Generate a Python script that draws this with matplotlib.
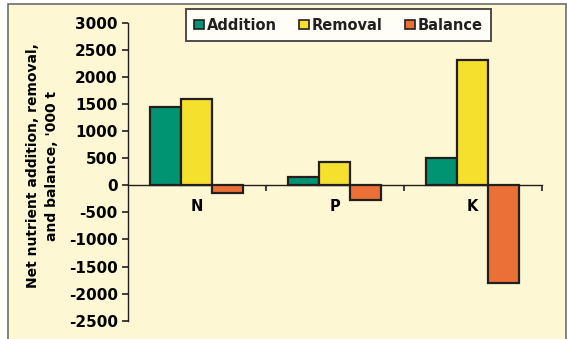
import matplotlib
matplotlib.use("Agg")
import matplotlib.pyplot as plt
from matplotlib.patches import Rectangle
import numpy as np

# nutrient balance, '000 t
nutrients = ["N", "P", "K"]
addition = [1450, 160, 510]
removal = [1600, 430, 2310]
balance = [-150, -270, -1800]

series_names = ["Addition", "Removal", "Balance"]
colors = ["#009473", "#f5e02e", "#ea7035"]
ink = "#231f20"
paper = "#fdf7d3"

plt.rcParams["font.family"] = "DejaVu Sans"
plt.rcParams["font.weight"] = "bold"
plt.rcParams["text.color"] = ink
plt.rcParams["axes.unicode_minus"] = False

fig = plt.figure(figsize=(5.67, 3.39), dpi=100)
fig.patch.set_facecolor("white")

# cream panel with grey frame behind everything
W, H = 567.0, 339.0
panel = Rectangle((8 / W, -0.01), 558 / W, 1 - 4 / H + 0.01,
                  transform=fig.transFigure, facecolor=paper,
                  edgecolor="#6d6d6d", linewidth=1.2, zorder=-10)
fig.patches.append(panel)

ax = fig.add_axes([127.5 / W, 1 - 320.7 / H, (541.7 - 127.5) / W, (320.7 - 22.7) / H])
ax.set_facecolor("none")

x = np.arange(len(nutrients))
width = 0.225
for i, (vals, name, c) in enumerate(zip([addition, removal, balance], series_names, colors)):
    ax.bar(x + (i - 1) * width, vals, width, color=c, edgecolor=ink,
           linewidth=1.6, label=name, zorder=3)

ax.set_xlim(-0.5, 2.5)
ax.set_ylim(-2500, 3000)
ax.set_yticks(np.arange(-2500, 3001, 500))

for side in ["top", "right"]:
    ax.spines[side].set_visible(False)
ax.spines["bottom"].set_position(("data", 0))
ax.spines["bottom"].set_color(ink)
ax.spines["bottom"].set_linewidth(1.0)
ax.spines["left"].set_color(ink)
ax.spines["left"].set_linewidth(1.0)

# tick marks between groups, labels at group centres
ax.set_xticks([0.5, 1.5, 2.5])
ax.set_xticklabels([])
ax.set_xticks(x, minor=True)
ax.set_xticklabels(nutrients, minor=True, fontsize=10.5)
ax.tick_params(axis="x", which="major", direction="out", length=4, width=1.2, color=ink)
ax.tick_params(axis="x", which="minor", length=0, pad=10)
ax.tick_params(axis="y", direction="out", length=4, width=1.2, color=ink,
               labelsize=11, pad=3)

ax.set_ylabel("Net nutrient addition, removal,\nand balance, '000 t",
              fontsize=10, fontweight="bold", linespacing=1.45)
ax.yaxis.set_label_coords(-0.165, 0.52)

leg = ax.legend(loc="center", bbox_to_anchor=(338.5 / W, 1 - 25 / H),
                bbox_transform=fig.transFigure, ncol=3, frameon=True,
                fancybox=False, fontsize=10.5, handlelength=0.65,
                handleheight=0.65, handletextpad=0.2, columnspacing=1.55,
                borderpad=0.6, borderaxespad=0)
leg.get_frame().set_edgecolor(ink)
leg.get_frame().set_linewidth(1.4)
leg.get_frame().set_facecolor("white")
for h in leg.legend_handles:
    h.set_linewidth(1.2)

fig.savefig("out.png", dpi=100, facecolor=fig.get_facecolor())
